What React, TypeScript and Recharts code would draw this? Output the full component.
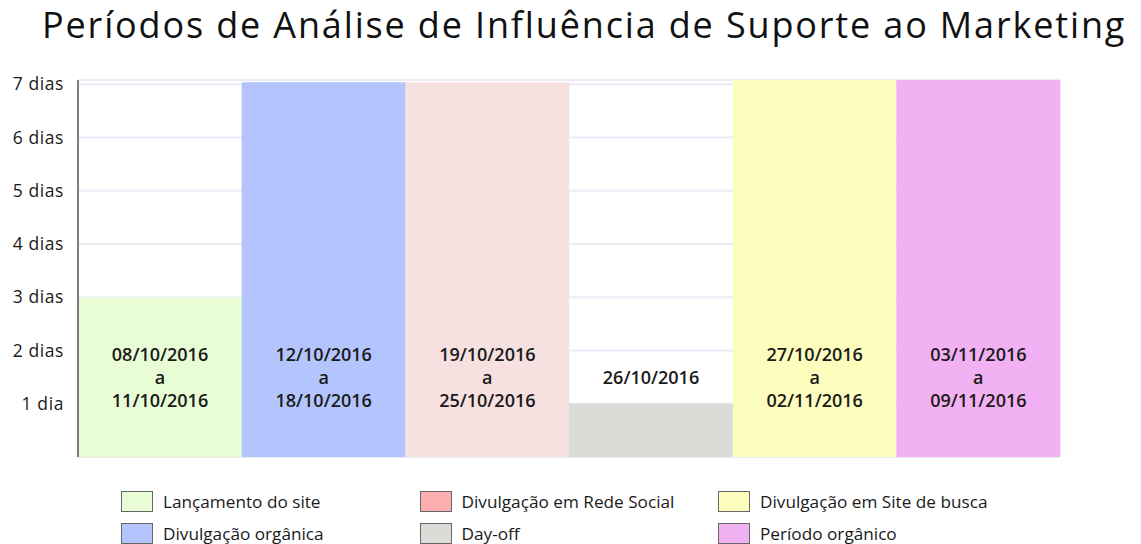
import React from "react";
import { BarChart, Bar, XAxis, YAxis, CartesianGrid, Cell, LabelList } from "recharts";

const title = "Períodos de Análise de Influência de Suporte ao Marketing";

const periods = [
  "08/10/2016\na\n11/10/2016",
  "12/10/2016\na\n18/10/2016",
  "19/10/2016\na\n25/10/2016",
  "26/10/2016",
  "27/10/2016\na\n02/11/2016",
  "03/11/2016\na\n09/11/2016",
];
const days = [3, 7.04, 7.04, 1, 7.08, 7.08];
const barColors = ["#e8fcd6", "#b3c5fc", "#f6e0e0", "#dbdbd7", "#fdfdbe", "#f2b1f2"];

const legendNames = [
  "Lançamento do site",
  "Divulgação em Rede Social",
  "Divulgação em Site de busca",
  "Divulgação orgânica",
  "Day-off",
  "Período orgânico",
];
const legendColors = ["#e8fcd6", "#feaeae", "#fdfdbe", "#b3c5fc", "#dbdbd7", "#f2b1f2"];

const yTicks = [1, 2, 3, 4, 5, 6, 7];
const labelLevel = 1.5;

const font = "'Open Sans', sans-serif";

const data = periods.map((p, i) => ({ period: p, days: days[i] }));

const PeriodLabel = (props: any) => {
  const { x, y, width, height, index } = props;
  const unit = height / days[index];
  const cy = y + height - labelLevel * unit;
  const lines = String(periods[index]).split("\n");
  const lh = 23;
  const start = cy - ((lines.length - 1) * lh) / 2;
  return (
    <text x={x + width / 2} textAnchor="middle" fontFamily={font} fontSize={18} fill="#1a1a1a" fontWeight={600}>
      {lines.map((l, i) => (
        <tspan key={i} x={x + width / 2} y={start + i * lh} dominantBaseline="central">
          {l}
        </tspan>
      ))}
    </text>
  );
};

const LegendBox = () => (
  <div style={{ position: "absolute", left: 0, top: 490, width: 1141, height: 54, fontFamily: font, fontSize: 17.2, color: "#1a1a1a" }}>
    {legendNames.map((name, i) => {
      const col = i % 3;
      const row = Math.floor(i / 3);
      return (
        <div key={name} style={{ position: "absolute", left: 121 + col * 298.5, top: row * 32, display: "flex", alignItems: "center", height: 22 }}>
          <span style={{ display: "inline-block", width: 32, height: 21, background: legendColors[i], border: "1px solid #666", boxSizing: "border-box" }} />
          <span style={{ marginLeft: 10, whiteSpace: "nowrap" }}>{name}</span>
        </div>
      );
    })}
  </div>
);

export default function App() {
  return (
    <div style={{ position: "absolute", left: 0, top: 0, width: 1141, height: 544, background: "#fff" }}>
      <div style={{ position: "absolute", left: 0, top: 0, width: 1141, paddingLeft: 42, boxSizing: "border-box", textAlign: "left", fontFamily: font, fontSize: 36, letterSpacing: 1.85, color: "#111", whiteSpace: "nowrap" }}>
        {title}
      </div>
      <div style={{ position: "absolute", left: 0, top: 0 }}>
        <BarChart width={1141} height={544} data={data} barCategoryGap={0} margin={{ top: 80, right: 81, bottom: 87, left: 0 }}>
          <XAxis dataKey="period" height={0} tick={false} tickLine={false} axisLine={{ stroke: "#7a7a7a", strokeWidth: 2 }} />
          <YAxis
            width={78}
            domain={[0, 7.08]}
            ticks={yTicks}
            tickFormatter={(v: number) => (v === 1 ? "1 dia" : `${v} dias`)}
            tickLine={false}
            tickSize={0}
            tickMargin={14}
            axisLine={{ stroke: "#555", strokeWidth: 1.5 }}
            tick={{ fontFamily: font, fontSize: 17.5, fill: "#1a1a1a", letterSpacing: 0.6 }}
            allowDataOverflow
          />
          <Bar dataKey="days" isAnimationActive={false}>
            {data.map((d, i) => (
              <Cell key={i} fill={barColors[i]} />
            ))}
            <LabelList dataKey="days" content={<PeriodLabel />} />
          </Bar>
          <CartesianGrid horizontal vertical={false} stroke="rgba(210,210,235,0.45)" strokeWidth={2} />
        </BarChart>
      </div>
      <LegendBox />
    </div>
  );
}
